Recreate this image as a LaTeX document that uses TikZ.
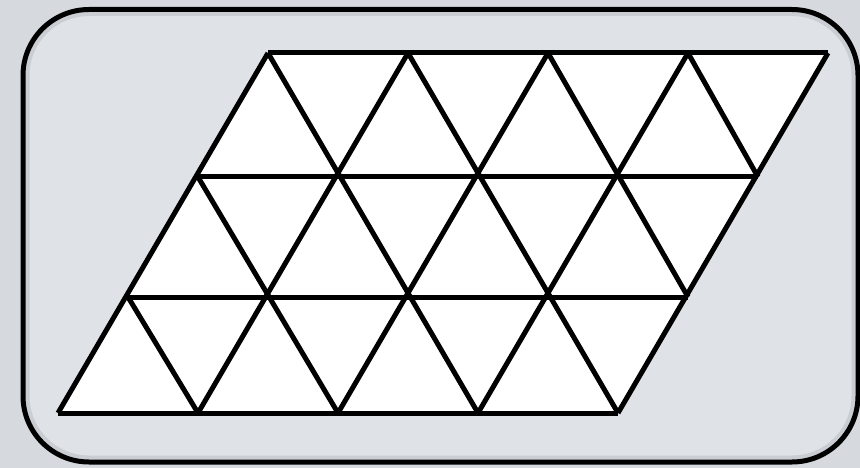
\documentclass[tikz,border=0pt]{standalone}
\begin{document}
\begin{tikzpicture}[x=1pt,y=-1pt,
  gridline/.style={line width=5pt,line cap=butt,line join=miter},
  frameline/.style={line width=5pt,rounded corners=66pt}]
\definecolor{bgouter}{HTML}{D6DADF}
\definecolor{bginner}{HTML}{DFE2E7}
\definecolor{shadowgray}{HTML}{CACED3}
\useasboundingbox (0,0) rectangle (860,468);
\fill[bgouter] (0,0) rectangle (860,468);
\coordinate (fa) at (23,9.5);
\coordinate (fb) at (858,462);
\fill[bginner,rounded corners=66pt] (fa) rectangle (fb);
% soft inner shadow
\draw[shadowgray,line width=5pt,rounded corners=62pt] (27,13.5) rectangle (854,458);
\draw[frameline] (fa) rectangle (fb);
% triangle grid vertices
\foreach \i/\y/\l in {0/53/268,1/177/198,2/297/128,3/413/58}
  \foreach \k in {0,...,4}
    \coordinate (v\i\k) at ({\l+140*\k},\y);
\fill[white] (v30) -- (v00) -- (v04) -- (v34) -- cycle;
% horizontal lines
\foreach \i in {0,...,3} \draw[gridline] (v\i0) -- (v\i4);
% rising diagonals
\foreach \k in {0,...,4} \draw[gridline] (v3\k) -- (v0\k);
% falling diagonals
\draw[gridline] (v00) -- (v33);
\draw[gridline] (v01) -- (v34);
\draw[gridline] (v02) -- (v24);
\draw[gridline] (v03) -- (v14);
\draw[gridline] (v10) -- (v32);
\draw[gridline] (v20) -- (v31);
\end{tikzpicture}
\end{document}
